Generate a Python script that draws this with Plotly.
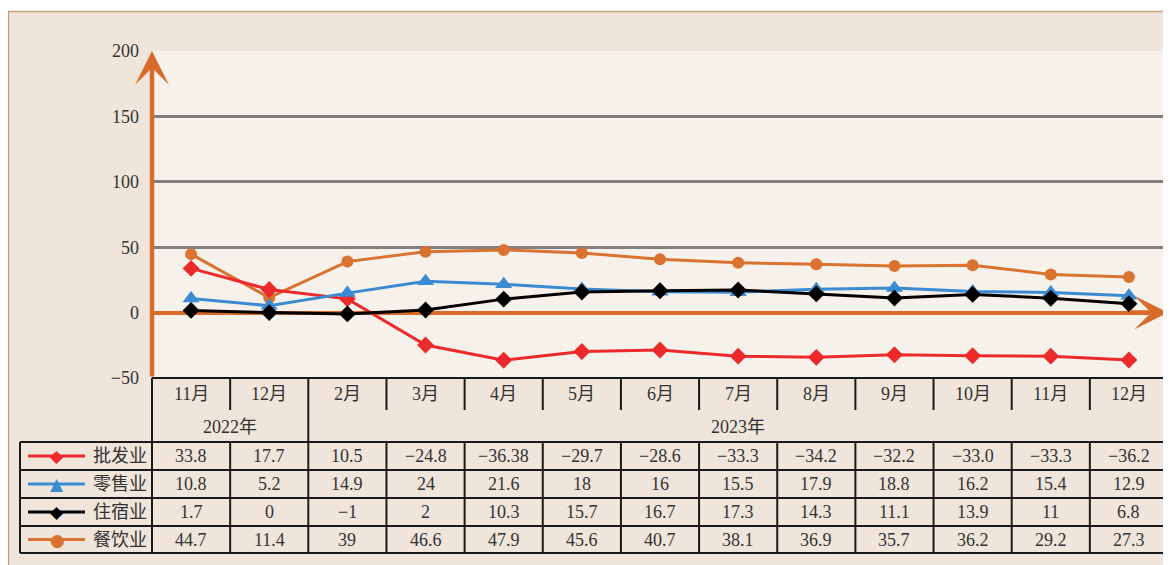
import plotly.graph_objects as go

# ---------------- data ----------------
months = ["11月", "12月", "2月", "3月", "4月", "5月", "6月", "7月", "8月", "9月", "10月", "11月", "12月"]
years = ["2022年", "2022年", "2023年", "2023年", "2023年", "2023年", "2023年", "2023年", "2023年",
         "2023年", "2023年", "2023年", "2023年"]
series_names = ["批发业", "零售业", "住宿业", "餐饮业"]
wholesale = [33.8, 17.7, 10.5, -24.8, -36.38, -29.7, -28.6, -33.3, -34.2, -32.2, -33.0, -33.3, -36.2]
retail = [10.8, 5.2, 14.9, 24, 21.6, 18, 16, 15.5, 17.9, 18.8, 16.2, 15.4, 12.9]
lodging = [1.7, 0, -1, 2, 10.3, 15.7, 16.7, 17.3, 14.3, 11.1, 13.9, 11, 6.8]
catering = [44.7, 11.4, 39, 46.6, 47.9, 45.6, 40.7, 38.1, 36.9, 35.7, 36.2, 29.2, 27.3]
ytick_vals = [-50, 0, 50, 100, 150, 200]

x_keys = [y + m for y, m in zip(years, months)]
series_values = [wholesale, retail, lodging, catering]

# ---------------- styles ----------------
colors = ["#EC2A2B", "#3B8BD3", "#000000", "#DA7230"]
symbols = ["diamond", "triangle-up", "diamond", "circle"]
msizes = [13, 15, 13, 12]
legend_glyphs = ["◆", "▲", "◆", "●"]
AXIS_ORANGE = "#D86B2A"
TXT = "#333333"
FONT = "Liberation Serif, Noto Sans CJK SC, serif"

OFF = 8  # page body margin
W, H = 1171 - OFF, 565 - OFF
L, T = 152 - OFF, 51 - OFF
R = W - (1168 - OFF)
B = H - (378 - OFF)
PW = W - L - R
PH = H - T - B
N = len(months)


def px(p):  # page pixel x -> paper
    return (p - OFF - L) / PW


def py(p):  # page pixel y -> paper
    return (H - B - (p - OFF)) / PH


def colx(i):
    return (i + 0.5) / N


def bnd(i):
    return i / N


def fmt(v):
    return str(v).replace("-", "−")


fig = go.Figure()

draw_order = [3, 0, 1, 2]
for k in draw_order:
    fig.add_trace(go.Scatter(
        x=x_keys, y=series_values[k], name=series_names[k], mode="lines+markers",
        line=dict(color=colors[k], width=3),
        marker=dict(symbol=symbols[k], size=msizes[k], color=colors[k]),
        cliponaxis=False, showlegend=False))

shapes = []
# white strip at top + tan border
shapes.append(dict(type="rect", xref="paper", yref="paper", x0=px(0), x1=px(1171), y0=py(0), y1=py(11),
                   fillcolor="white", line=dict(width=0), layer="below"))
shapes.append(dict(type="line", xref="paper", yref="paper", x0=px(8), x1=px(1171), y0=py(11.5), y1=py(11.5),
                   line=dict(color="#C9A07C", width=1.5)))
shapes.append(dict(type="line", xref="paper", yref="paper", x0=px(8.5), x1=px(8.5), y0=py(11), y1=py(565),
                   line=dict(color="#C9A07C", width=1.5)))

LC = "#1A1A1A"
LW = 2
shapes.append(dict(type="line", xref="paper", yref="paper", x0=0, x1=1, y0=py(378), y1=py(378),
                   line=dict(color=LC, width=LW)))
row_lines = [442, 470, 498, 526, 553]
for yy in row_lines:
    shapes.append(dict(type="line", xref="paper", yref="paper", x0=px(20), x1=1, y0=py(yy), y1=py(yy),
                       line=dict(color=LC, width=LW)))
for i in range(1, N):
    full = years[i - 1] != years[i]
    shapes.append(dict(type="line", xref="paper", yref="paper", x0=bnd(i), x1=bnd(i),
                       y0=py(378), y1=py(442 if full else 410), line=dict(color=LC, width=LW)))
    shapes.append(dict(type="line", xref="paper", yref="paper", x0=bnd(i), x1=bnd(i),
                       y0=py(442), y1=py(553), line=dict(color=LC, width=LW)))
for xb in [0, 1]:
    shapes.append(dict(type="line", xref="paper", yref="paper", x0=xb, x1=xb, y0=py(378), y1=py(553),
                       line=dict(color=LC, width=LW)))
shapes.append(dict(type="line", xref="paper", yref="paper", x0=px(20), x1=px(20), y0=py(442), y1=py(553),
                   line=dict(color=LC, width=LW)))

row_centers = [456, 484, 512, 539.5]
annotations = []
for k in range(4):
    yc = py(row_centers[k])
    shapes.append(dict(type="line", xref="paper", yref="paper", x0=px(28), x1=px(85), y0=yc, y1=yc,
                       line=dict(color=colors[k], width=3)))
    annotations.append(dict(xref="paper", yref="paper", x=px(57), y=yc, text=legend_glyphs[k],
                            showarrow=False, font=dict(family="DejaVu Sans", size=17, color=colors[k]),
                            xanchor="center", yanchor="middle"))
    annotations.append(dict(xref="paper", yref="paper", x=px(120), y=yc, text=series_names[k],
                            showarrow=False, font=dict(family=FONT, size=18, color=TXT),
                            xanchor="center", yanchor="middle"))
    for i, v in enumerate(series_values[k]):
        annotations.append(dict(xref="paper", yref="paper", x=colx(i), y=yc, text=fmt(v),
                                showarrow=False, font=dict(family=FONT, size=18, color=TXT),
                                xanchor="center", yanchor="middle"))

for i, m in enumerate(months):
    annotations.append(dict(xref="paper", yref="paper", x=colx(i), y=py(394), text=m,
                            showarrow=False, font=dict(family=FONT, size=18, color=TXT),
                            xanchor="center", yanchor="middle"))
start = 0
for i in range(1, N + 1):
    if i == N or years[i] != years[start]:
        annotations.append(dict(xref="paper", yref="paper", x=(bnd(start) + bnd(i)) / 2, y=py(427),
                                text=years[start], showarrow=False,
                                font=dict(family=FONT, size=18, color=TXT),
                                xanchor="center", yanchor="middle"))
        start = i

# axis arrows
annotations.append(dict(xref="paper", yref="paper", x=0, y=1, ax=0, ay=PH, text="",
                        showarrow=True, arrowhead=3, arrowsize=1.25, arrowwidth=4.5,
                        arrowcolor=AXIS_ORANGE))
annotations.append(dict(xref="paper", yref="y", x=1.0, y=0, ax=-40, ay=0, text="",
                        showarrow=True, arrowhead=3, arrowsize=1.25, arrowwidth=4.5,
                        arrowcolor=AXIS_ORANGE))

fig.update_layout(
    width=W, height=H, autosize=False,
    margin=dict(l=L, r=R, t=T, b=B, pad=0),
    paper_bgcolor="#EFE5DA", plot_bgcolor="#F6F1EA",
    shapes=shapes, annotations=annotations,
    xaxis=dict(type="category", range=[-0.5, N - 0.5], showticklabels=False, showgrid=False,
               zeroline=False, showline=False, ticks=""),
    yaxis=dict(range=[-50, 200], tickvals=ytick_vals, showgrid=True, gridcolor="#7F7F7F", gridwidth=2.5,
               zeroline=True, zerolinecolor=AXIS_ORANGE, zerolinewidth=4, showline=False, ticks="",
               ticklabelstandoff=12, tickfont=dict(family=FONT, size=18, color=TXT)),
    font=dict(family=FONT, color=TXT),
)

fig.write_html("out.html")
